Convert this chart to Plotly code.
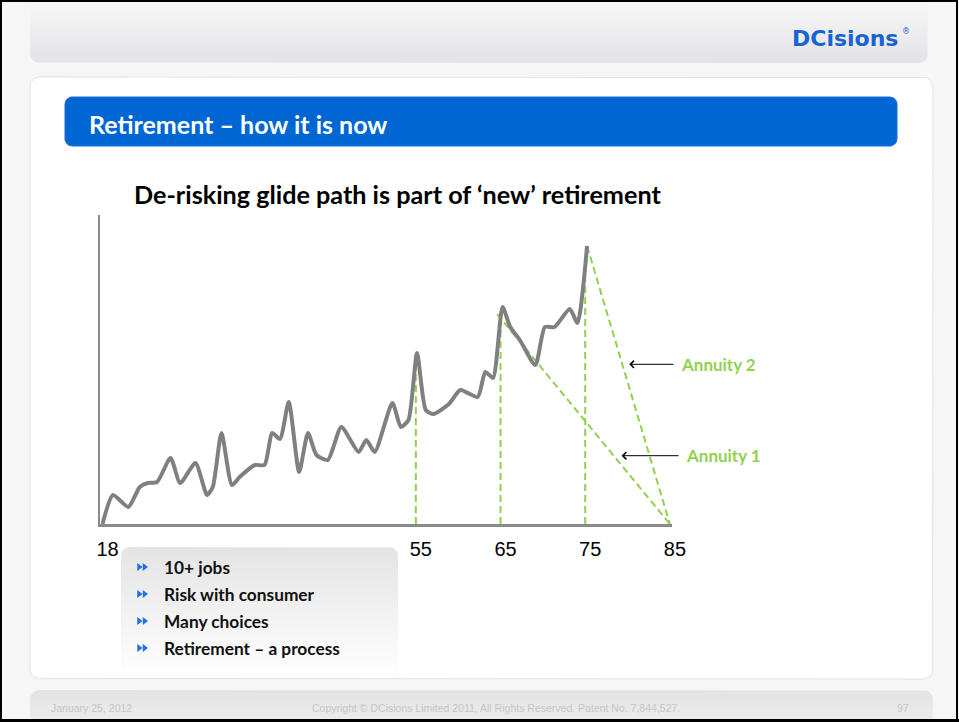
import numpy as np
import plotly.graph_objects as go

W, H = 959, 722

# ---------------- data ----------------
ages = [18, 19.23, 21.04, 22.40, 23.31, 24.44, 26.03, 27.17, 28.97, 30.34,
        31.02, 32.05, 33.28, 34.19, 35.99, 37.13, 38.04, 38.95, 39.99, 41.22,
        42.26, 43.26, 44.61, 46.20, 48.24, 49.15, 50.14, 52.23, 53.23, 54.13,
        55.14, 56.17, 57.08, 58.90, 60.26, 62.30, 63.20, 64.11, 65.24, 66.15,
        67.28, 69.11, 70.24, 71.38, 73.18, 74.08, 75.22]
fund_value = [0, 29, 17, 37, 41, 42, 66, 41, 61, 29,
              37, 91, 39, 47, 59, 59, 91, 85, 122, 52,
              91, 69, 64, 97, 72, 84, 72, 121, 97, 104,
              171, 114, 110, 120, 134, 127, 152, 146, 217, 197,
              184, 159, 197, 197, 215, 201, 278]

milestone_ages = [55, 65, 75]
milestone_tops = [171, 205, 262]

annuity1_ages = [64.6, 85]
annuity1_values = [210, 0]
annuity2_ages = [75.22, 85]
annuity2_values = [278, 0]

tick_vals = [18, 55, 65, 75, 85]
tick_text = ["18", "55", "65", "75", "85"]

annuity_labels = ["Annuity 2", "Annuity 1"]
arrow_tip_ages = [80.2, 79.3]
arrow_tail_ages = [85.6, 86.2]
arrow_values = [159.7, 68.3]

bullets = ["10+ jobs", "Risk with consumer", "Many choices", "Retirement \u2013 a process"]

GREEN = "#92D050"
GREY = "#808080"
BLUE = "#0066D4"

# chart placement on the slide (pixels)
PX_L, PX_R, PY_T, PY_B = 100, 672, 215, 524
X_RANGE = [17.7, 85.25]
Y_RANGE = [0, 309]


def age_to_px(a):
    return PX_L + (a - X_RANGE[0]) / (X_RANGE[1] - X_RANGE[0]) * (PX_R - PX_L)


def val_to_py(v):
    return PY_B - (v - Y_RANGE[0]) / (Y_RANGE[1] - Y_RANGE[0]) * (PY_B - PY_T)


# ---------------- helpers for slide decoration (pixel space) ----------------
def rrect(x0, y0, x1, y1, rt, rb):
    xs, ys = [], []

    def arc(cx, cy, r, a0, a1):
        for t in np.linspace(a0, a1, 10):
            xs.append(cx + r * np.cos(t))
            ys.append(cy + r * np.sin(t))

    arc(x0 + rt, y0 + rt, rt, np.pi, 1.5 * np.pi)
    arc(x1 - rt, y0 + rt, rt, 1.5 * np.pi, 2 * np.pi)
    arc(x1 - rb, y1 - rb, rb, 0, 0.5 * np.pi)
    arc(x0 + rb, y1 - rb, rb, 0.5 * np.pi, np.pi)
    xs.append(xs[0]); ys.append(ys[0])
    return xs, ys


fig = go.Figure()


def deco(x0, y0, x1, y1, rt, rb, fill=None, grad=None, line=None, lw=1):
    xs, ys = rrect(x0, y0, x1, y1, rt, rb)
    kw = dict(x=xs, y=ys, mode="lines", fill="toself", hoverinfo="skip",
              showlegend=False, xaxis="x", yaxis="y",
              line=dict(color=line if line else "rgba(0,0,0,0)", width=lw))
    if grad:
        kw["fillgradient"] = dict(type="vertical", start=grad[2], stop=grad[3],
                                  colorscale=[[0, grad[0]], [1, grad[1]]])
    else:
        kw["fillcolor"] = fill
    fig.add_trace(go.Scatter(**kw))


deco(30, -12, 928, 63, 10, 10, grad=("#f7f7f7", "#e3e3e6", 0, 63))          # header
deco(30, 77, 933, 679, 10, 10, fill="#ffffff", line="#e3e3e3", lw=1)        # panel
deco(65, 97, 897, 146, 7, 7, fill=BLUE, line="#1a6fd6", lw=1)               # banner
deco(121, 547, 398, 678, 9, 0, grad=("#e4e4e4", "#ffffff", 547, 678))       # bullet box
deco(30, 690, 933, 740, 10, 10, grad=("#e3e3e3", "#ececec", 690, 722))      # footer

bullet_y = [567, 594, 621, 648]
fig.add_trace(go.Scatter(
    x=[139] * 4 + [144.5] * 4, y=bullet_y * 2, mode="markers",
    marker=dict(symbol="triangle-right", size=7, color="#1f6fe6"),
    hoverinfo="skip", showlegend=False, xaxis="x", yaxis="y"))

# ---------------- the chart itself (x2 / y2) ----------------
dash = dict(color=GREEN, width=2, dash="7px,4px")
for a, top in zip(milestone_ages, milestone_tops):
    fig.add_trace(go.Scatter(x=[a, a], y=[0, top], mode="lines", line=dash,
                             hoverinfo="skip", showlegend=False,
                             xaxis="x2", yaxis="y2"))
fig.add_trace(go.Scatter(x=annuity1_ages, y=annuity1_values, mode="lines", line=dash,
                         hoverinfo="skip", showlegend=False, xaxis="x2", yaxis="y2"))
fig.add_trace(go.Scatter(x=annuity2_ages, y=annuity2_values, mode="lines", line=dash,
                         hoverinfo="skip", showlegend=False, xaxis="x2", yaxis="y2"))
fig.add_trace(go.Scatter(x=ages, y=fund_value, mode="lines",
                         line=dict(color=GREY, width=4, shape="spline", smoothing=0.6),
                         hoverinfo="skip", showlegend=False, xaxis="x2", yaxis="y2",
                         cliponaxis=False))

annotations = []
for lab, tip, tail, v in zip(annuity_labels, arrow_tip_ages, arrow_tail_ages, arrow_values):
    annotations.append(dict(x=tip, y=v, ax=tail, ay=v, xref="x2", yref="y2",
                            axref="x2", ayref="y2", text="", showarrow=True,
                            arrowhead=4, arrowsize=1.4, arrowwidth=1,
                            arrowcolor="#000000", standoff=0, startstandoff=0))
    annotations.append(dict(x=age_to_px(tail) + 4, y=val_to_py(v), xref="x", yref="y",
                            text="<b>%s</b>" % lab, showarrow=False,
                            xanchor="left", yanchor="middle",
                            font=dict(family="Lato", size=17, color=GREEN)))


def txt(x, y, s, size, color, family, anchor="left", bold=False):
    annotations.append(dict(x=x, y=y, xref="x", yref="y",
                            text=("<b>%s</b>" % s) if bold else s,
                            showarrow=False, xanchor=anchor, yanchor="middle",
                            font=dict(family=family, size=size, color=color)))


txt(790, 38, "DCisions", 22, "#1763d3", "DejaVu Sans", bold=True)
txt(900, 31, "\u00ae", 8, "#1763d3", "DejaVu Sans")
txt(87, 124, "Retirement \u2013 how it is now", 25, "#ffffff", "Lato", bold=True)
txt(132, 194, "De-risking glide path is part of \u2018new\u2019 retirement", 25.2,
    "#000000", "Lato", bold=True)
for s, y in zip(bullets, bullet_y):
    txt(162, y, s, 17.3, "#111111", "Lato", bold=True)
txt(49, 708, "January 25, 2012", 10.5, "#c6c6c6", "Liberation Sans")
txt(496, 708, "Copyright \u00a9 DCisions Limited 2011, All Rights Reserved. Patent No. 7,844,527.",
    10.5, "#c6c6c6", "Liberation Sans", anchor="center")
txt(911, 708, "97", 10.5, "#c6c6c6", "Liberation Sans", anchor="right")

shapes = [
    dict(type="rect", xref="x", yref="y", x0=1, y0=1, x1=957, y1=720,
         line=dict(color="#000000", width=2), fillcolor="rgba(0,0,0,0)", layer="above"),
    dict(type="line", xref="x", yref="y", x0=0, y0=720.5, x1=959, y1=720.5,
         line=dict(color="#000000", width=3), layer="above"),
]

fig.update_layout(
    width=W, height=H, autosize=False, margin=dict(l=0, r=0, t=0, b=0, pad=0),
    paper_bgcolor="#f6f6f6", plot_bgcolor="rgba(0,0,0,0)",
    showlegend=False,
    xaxis=dict(domain=[0, 1], range=[0, W], visible=False, fixedrange=True,
               automargin=False),
    yaxis=dict(domain=[0, 1], range=[H, 0], visible=False, fixedrange=True,
               automargin=False),
    xaxis2=dict(domain=[PX_L / W, PX_R / W], range=X_RANGE, anchor="y2",
                showline=True, linecolor="#8a8a8a", linewidth=3, showgrid=False,
                zeroline=False, ticks="", tickvals=tick_vals, ticktext=tick_text,
                tickfont=dict(family="Liberation Sans", size=20, color="#000000"),
                ticklabelshift=5, ticklabelstandoff=5, fixedrange=True,
                automargin=False),
    yaxis2=dict(domain=[(H - PY_B) / H, (H - PY_T) / H], range=Y_RANGE, anchor="x2",
                showline=True, linecolor="#8a8a8a", linewidth=1.5, showgrid=False,
                zeroline=False, showticklabels=False, ticks="", fixedrange=True,
                automargin=False),
    annotations=annotations, shapes=shapes,
)

fig.write_html(
    "out.html",
    config={"displayModeBar": False, "responsive": False},
    post_script=(
        "document.body.style.margin='0px';"
        "document.body.style.overflow='hidden';"
    ),
)
